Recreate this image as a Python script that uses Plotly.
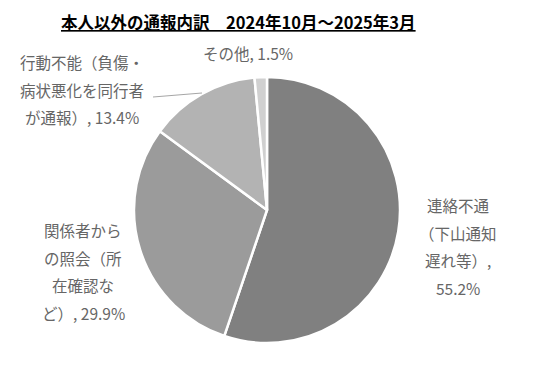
import plotly.graph_objects as go

categories = ["連絡不通（下山通知遅れ等）", "関係者からの照会（所在確認など）",
              "行動不能（負傷・病状悪化を同行者が通報）", "その他"]
values = [55.2, 29.9, 13.4, 1.5]
colors = ["#808080", "#9b9b9b", "#b3b3b3", "#d0d0d0"]
title_text = "本人以外の通報内訳　2024年10月～2025年3月"

# label lines as drawn in the chart
label_lines = [
    ["連絡不通", "（下山通知", "遅れ等）,", "55.2%"],
    ["関係者から", "の照会（所", "在確認な", "ど）, 29.9%"],
    ["行動不能（負傷・", "病状悪化を同行者", "が通報）, 13.4%"],
    ["その他, 1.5%"],
]
label_anchor = [(458, 205), (83, 230), (82, 62), (248, 53)]  # pixel x, first-line y
LINE_H = 27.5

W, H = 536, 388
fig = go.Figure(go.Pie(
    labels=categories, values=values, sort=False, direction="clockwise",
    rotation=0, marker=dict(colors=colors, line=dict(color="white", width=2.5)),
    textinfo="none", hoverinfo="label+percent", showlegend=False,
    domain=dict(x=[134 / W, 400 / W], y=[45 / H, 311 / H]),
))

font_family = "Noto Sans CJK JP"
ann = []
for lines, (px, py) in zip(label_lines, label_anchor):
    for i, t in enumerate(lines):
        ann.append(dict(x=px / W, y=1 - (py + i * LINE_H) / H, xref="paper", yref="paper",
                        text=t, showarrow=False, xanchor="center", yanchor="middle",
                        font=dict(family=font_family, size=15.5, color="#666666")))
ann.append(dict(x=238 / W, y=1 - 22 / H, xref="paper", yref="paper",
                text="<b><u>" + title_text + "</u></b>", showarrow=False,
                xanchor="center", yanchor="middle",
                font=dict(family=font_family, size=16.5, color="#000000")))

fig.update_layout(
    width=W, height=H, margin=dict(l=0, r=0, t=0, b=0),
    paper_bgcolor="white", plot_bgcolor="white",
    annotations=ann,
    shapes=[dict(type="line", xref="paper", yref="paper",
                 x0=153 / W, y0=1 - 97 / H, x1=202 / W, y1=1 - 93 / H,
                 line=dict(color="#a6a6a6", width=1))],
)
fig.write_html("out.html", config={"displayModeBar": False},
               post_script="document.body.style.margin='0';document.body.style.padding='0';")
